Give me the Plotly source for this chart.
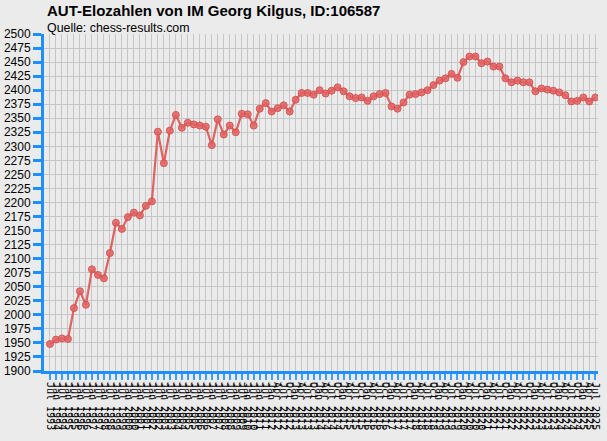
import plotly.graph_objects as go

# ---- data ----
period_labels = [
    "Jul 1993", "Jan 1994", "Jul 1994", "Jan 1995", "Jul 1995", "Jan 1996", "Jul 1996", "Jan 1997",
    "Jul 1997", "Jan 1998", "Jul 1998", "Jan 1999", "Jul 1999", "Jan 2000", "Jul 2000", "Jan 2001",
    "Jul 2001", "Jan 2002", "Jul 2002", "Jan 2003", "Jul 2003", "Jan 2004", "Jul 2004", "Jan 2005",
    "Jul 2005", "Jan 2006", "Jul 2006", "Jan 2007", "Jul 2007", "Jan 2008", "Jul 2008", "Jan 2009",
    "Jul 2009", "Jan 2010", "Jul 2010", "Jan 2011", "Jul 2011", "Jan 2012",
    "Apr 2012", "Jul 2012", "Oct 2012",
    "Jan 2013", "Apr 2013", "Jul 2013", "Oct 2013",
    "Jan 2014", "Apr 2014", "Jul 2014", "Oct 2014",
    "Jan 2015", "Apr 2015", "Jul 2015", "Oct 2015",
    "Jan 2016", "Apr 2016", "Jul 2016", "Oct 2016",
    "Jan 2017", "Apr 2017", "Jul 2017", "Oct 2017",
    "Jan 2018", "Apr 2018", "Jul 2018", "Oct 2018",
    "Jan 2019", "Apr 2019", "Jul 2019", "Oct 2019",
    "Jan 2020", "Apr 2020", "Jul 2020", "Oct 2020",
    "Jan 2021", "Apr 2021", "Jul 2021", "Oct 2021",
    "Jan 2022", "Apr 2022", "Jul 2022", "Oct 2022",
    "Jan 2023", "Apr 2023", "Jul 2023", "Oct 2023",
    "Jan 2024", "Apr 2024", "Jul 2024", "Oct 2024",
    "Jan 2025", "Apr 2025", "Jul 2025",
]

elo_values = [
    1948, 1956, 1958, 1957, 2012, 2042, 2018, 2081, 2071, 2065,
    2110, 2164, 2153, 2174, 2182, 2177, 2194, 2202, 2326, 2270,
    2328, 2356, 2333, 2342, 2339, 2337, 2335, 2302, 2348, 2321,
    2337, 2325, 2358, 2357, 2337, 2367, 2377, 2362, 2368, 2373,
    2362, 2383, 2395, 2395, 2392, 2400, 2394, 2399, 2405, 2398,
    2389, 2386, 2387, 2381, 2389, 2393, 2395, 2371, 2367, 2378,
    2392, 2393, 2396, 2400, 2409, 2417, 2421, 2429, 2422, 2450,
    2460, 2460, 2448, 2451, 2442, 2442, 2421, 2414, 2417, 2414,
    2414, 2398, 2403, 2401, 2399, 2396, 2391, 2380, 2381, 2387,
    2380, 2387,
]

y_ticks = list(range(1900, 2501, 25))

title_text = "AUT-Elozahlen von IM Georg Kilgus, ID:106587"
subtitle_text = "Quelle: chess-results.com"

# ---- figure ----
x_idx = list(range(len(elo_values)))
BLUE = "#1e8fff"
BG = "#ebebeb"
GRID = "#c6c6c6"
FONT = "Liberation Sans, Arial, sans-serif"

fig = go.Figure()
fig.add_trace(go.Scatter(
    x=x_idx,
    y=elo_values,
    mode="lines+markers",
    line=dict(color="#e06262", width=2.2),
    marker=dict(color="rgba(226,98,98,0.85)", size=7,
                line=dict(color="rgba(214,80,80,0.9)", width=1)),
    hoverinfo="y",
    showlegend=False,
))

fig.update_layout(
    width=607,
    height=441,
    paper_bgcolor=BG,
    plot_bgcolor=BG,
    margin=dict(l=44, r=9, t=34, b=70, autoexpand=False),
    font=dict(family=FONT, color="#000000"),
    annotations=[
        dict(text="<b>" + title_text + "</b>", xref="paper", yref="paper",
             x=0, y=(337 + 23) / 337, xanchor="left", yanchor="middle",
             xshift=1, showarrow=False, font=dict(size=15, family=FONT, color="#000")),
        dict(text=subtitle_text, xref="paper", yref="paper",
             x=0, y=(337 + 6) / 337, xanchor="left", yanchor="middle",
             xshift=1, showarrow=False, font=dict(size=12.4, family=FONT, color="#000")),
    ],
)

fig.update_xaxes(
    automargin=False,
    range=[-1, 91.45],
    tickmode="array",
    tickvals=x_idx,
    ticktext=period_labels,
    tickangle=90,
    tickfont=dict(size=10, family="DejaVu Sans Mono, monospace", color="#000"),
    showgrid=True,
    gridcolor=GRID,
    gridwidth=1,
    showline=True,
    linecolor=BLUE,
    linewidth=3,
    ticks="outside",
    ticklen=6,
    tickwidth=2,
    tickcolor="#3d9dff",
    zeroline=False,
    fixedrange=True,
)

fig.update_yaxes(
    automargin=False,
    range=[1900, 2500],
    tickmode="array",
    tickvals=y_ticks,
    ticktext=[str(v) for v in y_ticks],
    tickfont=dict(size=12, family=FONT, color="#000"),
    showgrid=True,
    gridcolor=GRID,
    gridwidth=1,
    showline=True,
    linecolor=BLUE,
    linewidth=3,
    ticks="outside",
    ticklen=8,
    tickwidth=3,
    tickcolor=BLUE,
    zeroline=False,
    fixedrange=True,
)

fig.write_html(
    "out.html",
    config={"displayModeBar": False},
    post_script="document.body.style.margin='0';document.body.style.overflow='hidden';document.body.style.background='#ebebeb';",
)
